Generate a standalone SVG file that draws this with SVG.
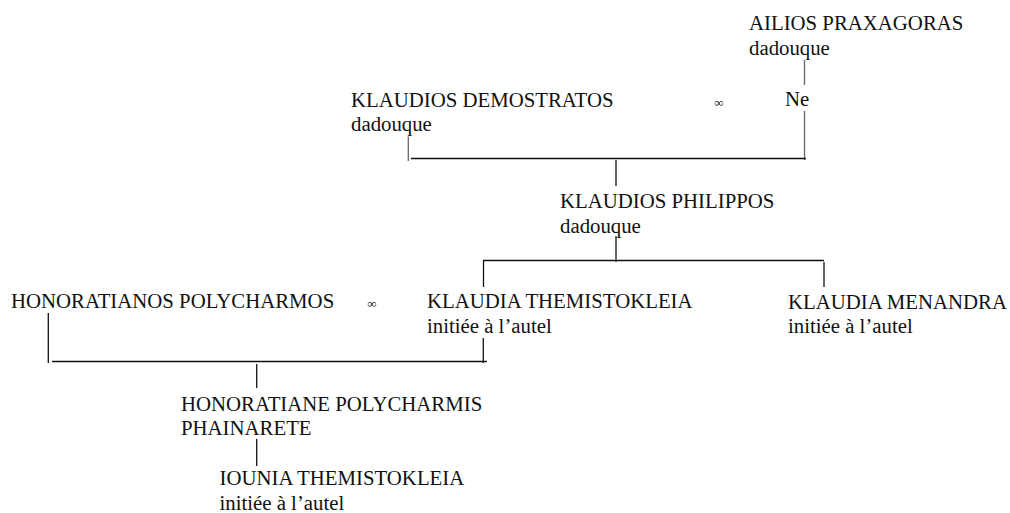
<svg xmlns="http://www.w3.org/2000/svg" width="1010" height="513" viewBox="0 0 1010 513" font-family="'Liberation Serif', 'Times New Roman', Times, serif">
<style>
text{font-family:'Liberation Serif','Times New Roman',Times,serif;font-size:20.8px;fill:#111}
.m{font-size:13px}
.c line{stroke:#111;stroke-width:1.3}
.c line.g{stroke:#666}
</style>
<rect width="1010" height="513" fill="#fff"/>
<g class="c" id="connectors">
<line class="g" x1="804.5" y1="60" x2="804.5" y2="85"/>
<line class="g" x1="804.5" y1="111" x2="804.5" y2="160"/>
<line x1="411" y1="158.5" x2="806" y2="158.5"/>
<line class="g" x1="408.3" y1="136.5" x2="408.3" y2="161"/>
<line x1="616" y1="160" x2="616" y2="186"/>
<line x1="616" y1="236" x2="616" y2="262"/>
<line x1="483" y1="260.5" x2="824" y2="260.5"/>
<line x1="483.5" y1="260" x2="483.5" y2="287"/>
<line x1="824" y1="262" x2="824" y2="287"/>
<line x1="48.3" y1="313" x2="48.3" y2="363"/>
<line x1="52" y1="361.5" x2="487" y2="361.5"/>
<line x1="483.3" y1="338" x2="483.3" y2="363"/>
<line x1="256.7" y1="364" x2="256.7" y2="388"/>
<line x1="256.7" y1="439" x2="256.7" y2="466"/>
</g>
<g id="ailios"><text x="749" y="30">AILIOS PRAXAGORAS</text><text x="749" y="55">dadouque</text></g>
<g id="demostratos"><text x="351" y="106.5">KLAUDIOS DEMOSTRATOS</text><text x="351" y="131">dadouque</text></g>
<g id="marriage1"><text class="m" x="719" y="107" text-anchor="middle">∞</text></g>
<g id="ne"><text x="785" y="105.5">Ne</text></g>
<g id="philippos"><text x="560" y="207.5">KLAUDIOS PHILIPPOS</text><text x="560" y="233">dadouque</text></g>
<g id="honoratianos"><text x="11" y="308">HONORATIANOS POLYCHARMOS</text></g>
<g id="marriage2"><text class="m" x="372" y="308" text-anchor="middle">∞</text></g>
<g id="themistokleia"><text x="427" y="308.3">KLAUDIA THEMISTOKLEIA</text><text x="427" y="333">initiée à l’autel</text></g>
<g id="menandra"><text x="788" y="309">KLAUDIA MENANDRA</text><text x="788" y="333">initiée à l’autel</text></g>
<g id="honoratiane"><text x="181" y="410.5">HONORATIANE POLYCHARMIS</text><text x="181" y="435">PHAINARETE</text></g>
<g id="iounia"><text x="219.5" y="485">IOUNIA THEMISTOKLEIA</text><text x="219.5" y="510">initiée à l’autel</text></g>
</svg>
